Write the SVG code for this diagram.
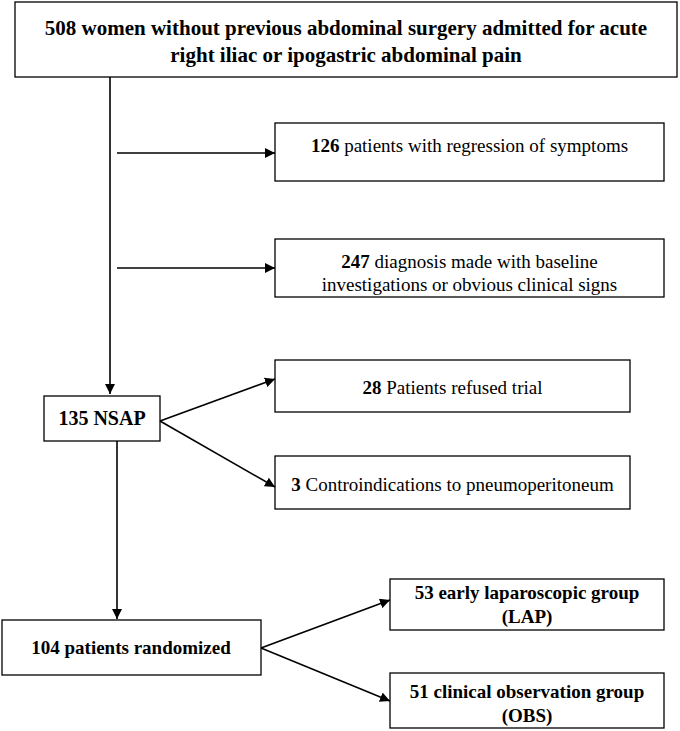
<svg xmlns="http://www.w3.org/2000/svg" width="680" height="731" viewBox="0 0 680 731">
<defs>
<marker id="ah" viewBox="0 0 10 10" refX="10" refY="5" markerWidth="10" markerHeight="10" markerUnits="userSpaceOnUse" orient="auto">
<path d="M0,0 L10,5 L0,10 z" fill="#000"/>
</marker>
</defs>
<style>
rect{fill:#fff;stroke:#000;stroke-width:1.3}
text{font-family:'Liberation Serif','DejaVu Serif',serif;fill:#000;text-anchor:middle}
.t{font-weight:bold;font-size:21px}
.b{font-weight:bold;font-size:19px}
.r{font-size:19px}
.n{font-weight:bold}
.c line{stroke:#000;stroke-width:1.6;marker-end:url(#ah)}
</style>
<rect x="0" y="0" width="680" height="731" style="fill:#fff;stroke:none"/>
<g id="n_top">
<rect x="15" y="2" width="662" height="75"/>
<text class="t" x="346" y="35">508 women without previous abdominal surgery admitted for acute</text>
<text class="t" x="346" y="62">right iliac or ipogastric abdominal pain</text>
</g>
<g id="n_126">
<rect x="275" y="123" width="389" height="58"/>
<text class="r" x="469.5" y="152"><tspan class="n">126</tspan> patients with regression of symptoms</text>
</g>
<g id="n_247">
<rect x="275" y="239" width="389" height="58"/>
<text class="r" x="469.5" y="268"><tspan class="n">247</tspan> diagnosis made with baseline</text>
<text class="r" x="469.5" y="291">investigations or obvious clinical signs</text>
</g>
<g id="n_nsap">
<rect x="44" y="396" width="116" height="45"/>
<text class="b" x="102" y="425" style="font-size:20px">135 NSAP</text>
</g>
<g id="n_28">
<rect x="275" y="360" width="355" height="52"/>
<text class="r" x="452.5" y="394"><tspan class="n">28</tspan> Patients refused trial</text>
</g>
<g id="n_3">
<rect x="275" y="456" width="355" height="53"/>
<text class="r" x="452.5" y="491"><tspan class="n">3</tspan> Controindications to pneumoperitoneum</text>
</g>
<g id="n_rand">
<rect x="2" y="620" width="259" height="55"/>
<text class="b" x="131" y="654">104 patients randomized</text>
</g>
<g id="n_lap">
<rect x="390" y="579" width="274" height="51"/>
<text class="b" x="527" y="599">53 early laparoscopic group</text>
<text class="b" x="527" y="623">(LAP)</text>
</g>
<g id="n_obs">
<rect x="390" y="673" width="274" height="55"/>
<text class="b" x="527" y="698">51 clinical observation group</text>
<text class="b" x="527" y="722">(OBS)</text>
</g>
<g id="connectors" class="c">
<line x1="110" y1="77" x2="110" y2="394"/>
<line x1="117" y1="153" x2="275" y2="153"/>
<line x1="117" y1="268" x2="275" y2="268"/>
<line x1="160" y1="421" x2="275" y2="379"/>
<line x1="160" y1="421" x2="275" y2="487"/>
<line x1="117" y1="441" x2="117" y2="619"/>
<line x1="261" y1="648" x2="390" y2="600"/>
<line x1="261" y1="648" x2="390" y2="701"/>
</g>
</svg>
